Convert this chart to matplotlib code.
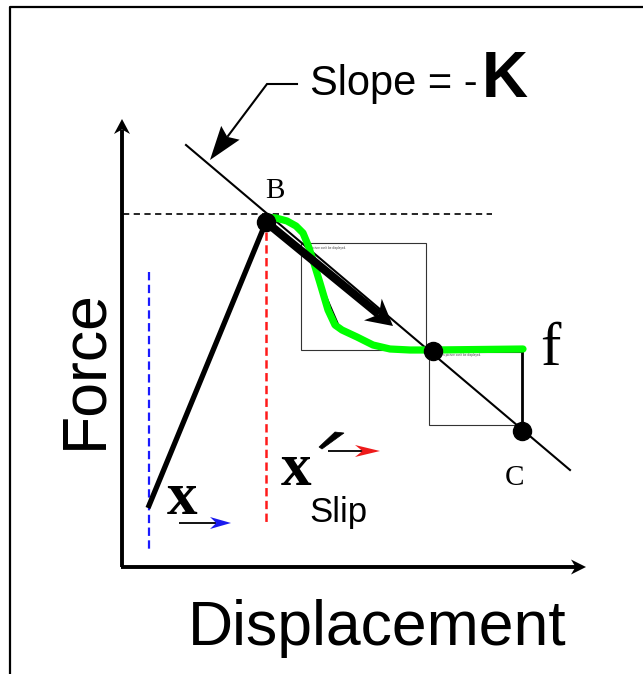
import numpy as np
import matplotlib
matplotlib.use("Agg")
import matplotlib.pyplot as plt
from matplotlib.patches import Polygon, Rectangle

plt.rcParams['lines.scale_dashes'] = False

SANS = 'Liberation Sans'
SERIF = 'Liberation Serif'

# diagram geometry, in picture pixels (y grows downward)
frame_x = [10, 10, 643]
frame_y = [674, 7, 7]
origin = (122, 567)
y_tip = (122, 119)
x_tip = (586, 567)

slope_x = [186, 570]
slope_y = [145, 470]

point_b = (266, 222)
point_mid = (433, 351)
point_c = (522, 431)

load_x = [148, 266]
load_y = [508, 222]

flat_y = 214
flat_x = [123, 492]

blue_x = 149
blue_y = [272, 553]
red_x = 266
red_y = [232, 522]

# green friction curve
green_x = [266, 276, 287, 296, 303, 308, 313, 320, 328, 335, 342, 357, 373, 390, 410, 433, 523]
green_y = [217, 218, 221, 226, 233, 245, 260, 283, 310, 325, 330, 337, 345, 349, 350, 350, 349]
ghost_x = [321, 340]
ghost_y = [284, 328]

box1 = (301, 243, 426, 350)
box2 = (429, 352, 522, 425)
drop_x = [522, 522]
drop_y = [349, 431]

big_arrow = ((266, 222), (393, 326))
leader_x = [297, 267]
leader_y = [84, 84]
leader_tip = (210, 160)

x_arrow = ((179, 523), (231, 523))
xp_arrow = ((328, 451), (380, 451))
prime_x = [319, 335, 344, 322]
prime_y = [447, 432, 433, 449]

fig = plt.figure(figsize=(6.43, 6.74), dpi=100)
ax = fig.add_axes([0, 0, 1, 1])
ax.set_xlim(0, 643)
ax.set_ylim(674, 0)
ax.axis('off')


def head(tail, tip, length, width, color, notch=0.3, z=5):
    tail = np.array(tail, float)
    tip = np.array(tip, float)
    u = (tip - tail) / np.hypot(*(tip - tail))
    n = np.array([-u[1], u[0]])
    base = tip - u * length
    pts = [tip, base + n * width / 2, tip - u * length * (1 - notch), base - n * width / 2]
    ax.add_patch(Polygon(pts, closed=True, color=color, lw=0, zorder=z))
    return tip - u * length * (1 - notch)


def arrow(tail, tip, lw, length, width, head_color='black', line_color='black', z=5):
    end = head(tail, tip, length, width, head_color, z=z + 0.1)
    ax.plot([tail[0], end[0]], [tail[1], end[1]], color=line_color, lw=lw,
            solid_capstyle='butt', zorder=z)


# frame
ax.plot(frame_x, frame_y, color='black', lw=1.6, zorder=1)

# axes with arrows
arrow(origin, y_tip, 2.8, 15, 16)
arrow((origin[0] - 1.5, origin[1]), x_tip, 2.8, 15, 15)

# boxes
for x0, y0, x1, y1 in (box1, box2):
    ax.add_patch(Rectangle((x0, y0), x1 - x0, y1 - y0, fill=False,
                           ec='#333333', lw=0.8, zorder=2))
ax.text(box1[0] + 3, box1[1] + 3, "This picture can't be displayed.", fontsize=2.2,
        family=SANS, color='#444444', va='top', zorder=2)
ax.text(box2[0] + 10, box2[1] + 1, "This picture can't be displayed.", fontsize=2.2,
        family=SANS, color='#444444', va='top', zorder=2)

# dashed guides
l, = ax.plot(flat_x, [flat_y, flat_y], color='black', lw=1.2, zorder=2)
l.set_dashes([4.5, 3.2])
l, = ax.plot([blue_x, blue_x], blue_y, color='#1a1aff', lw=1.6, zorder=2)
l.set_dashes([6, 3.2])
l, = ax.plot([red_x, red_x], red_y, color='#ff1a1a', lw=1.8, zorder=2)
l.set_dashes([6, 3.2])

# slope line
ax.plot(slope_x, slope_y, color='black', lw=1.5, zorder=3)

# loading line
ax.plot(load_x, load_y, color='black', lw=3.8, solid_capstyle='butt', zorder=3)

# green curve and drop line
ax.plot(ghost_x, ghost_y, color='black', lw=1.0, zorder=3)
ax.plot(green_x, green_y, color='#00ff00', lw=5.2, solid_capstyle='round',
        solid_joinstyle='round', zorder=4)
ax.plot(drop_x, drop_y, color='black', lw=2.0, zorder=3)

# thick slip arrow
arrow(big_arrow[0], big_arrow[1], 6.0, 26, 28, z=5)

# points
ax.plot([point_b[0], point_mid[0], point_c[0]], [point_b[1], point_mid[1], point_c[1]],
        'o', color='black', ms=13, zorder=6)

# leader for slope label
ax.plot(leader_x + [leader_tip[0] + 18], leader_y + [leader_tip[1] - 24], color='black',
        lw=1.5, zorder=5, solid_joinstyle='miter')
head((leader_x[1], leader_y[1]), leader_tip, 34, 23, 'black', notch=0.15)

# small arrows under x symbols
arrow(x_arrow[0], x_arrow[1], 1.3, 21, 12, head_color='#1a1aee')
arrow(xp_arrow[0], xp_arrow[1], 1.3, 25, 12, head_color='#ee1a1a')
ax.add_patch(Polygon(list(zip(prime_x, prime_y)), closed=True, color='black', lw=0.5))

# labels
ax.text(310, 95, 'Slope = -', fontsize=30, family=SANS, va='baseline', ha='left')
ax.text(482, 97, 'K', fontsize=46, family=SANS, weight='bold', va='baseline', ha='left')
ax.text(265, 198, 'B', fontsize=21, family=SERIF, va='baseline', ha='left')
ax.text(505, 485, 'C', fontsize=21, family=SERIF, va='baseline', ha='left')
ax.text(540, 365, 'f', fontsize=44, family=SERIF, va='baseline', ha='left')
ax.text(167, 514, 'x', fontsize=44, family=SERIF, weight='bold', va='baseline', ha='left')
ax.text(281, 485, 'x', fontsize=44, family=SERIF, weight='bold', va='baseline', ha='left')
ax.text(309, 522, 'Slip', fontsize=25, family=SANS, va='baseline', ha='left')
ax.text(101, 369, 'Force', fontsize=45, family=SANS, rotation=90,
        va='baseline', ha='center', rotation_mode='anchor')
ax.text(188, 645, 'Displacement', fontsize=45, family=SANS, va='baseline', ha='left')

fig.savefig('out.png', dpi=100)
